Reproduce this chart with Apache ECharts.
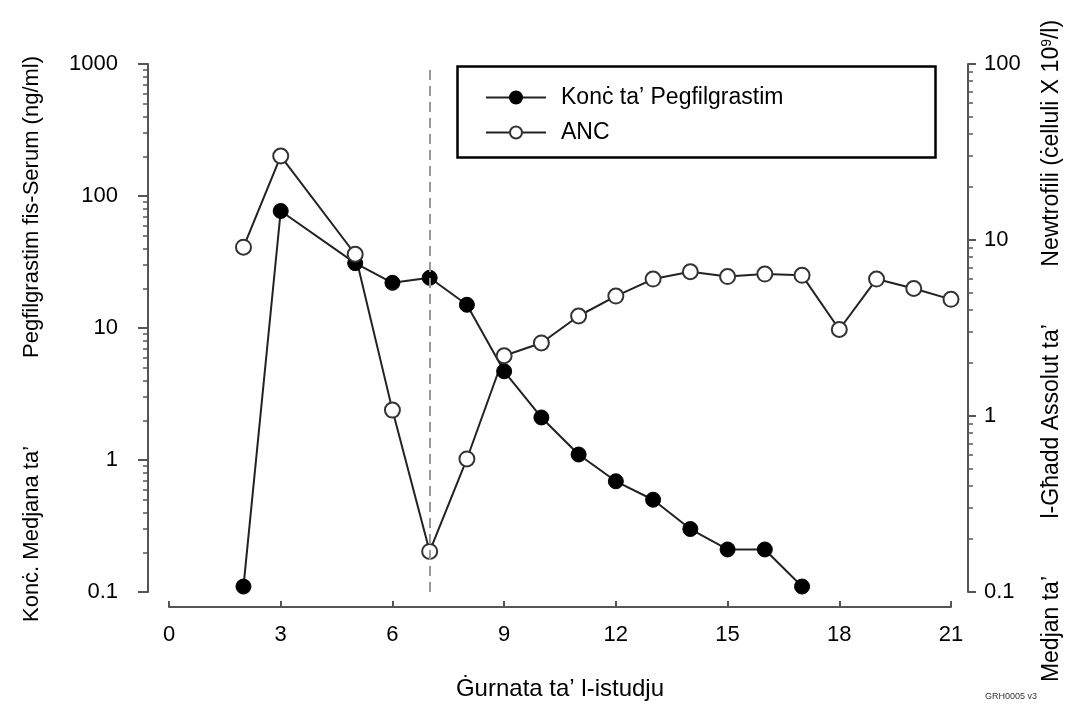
<!DOCTYPE html>
<html>
<head>
<meta charset="utf-8">
<title>Pegfilgrastim / ANC</title>
<script src="https://cdn.jsdelivr.net/npm/echarts@6/dist/echarts.min.js"></script>
<style>
  html, body { margin: 0; padding: 0; background: #fff; }
  #main { width: 1081px; height: 709px; }
</style>
</head>
<body>
<div id="main"></div>
<script>
// Data
var pegDays = [2, 3, 5, 6, 7, 8, 9, 10, 11, 12, 13, 14, 15, 16, 17];
var pegConc = [0.11, 77, 31, 22, 24, 15, 4.7, 2.1, 1.1, 0.69, 0.50, 0.30, 0.21, 0.21, 0.11];

var ancDays = [2, 3, 5, 6, 7, 8, 9, 10, 11, 12, 13, 14, 15, 16, 17, 18, 19, 20, 21];
var ancCount = [9.1, 30, 8.3, 1.08, 0.17, 0.57, 2.2, 2.6, 3.7, 4.8, 6.0, 6.6, 6.2, 6.4, 6.3, 3.1, 6.0, 5.3, 4.6];

var markDay = 7;

// minor ticks (2..9 in each decade)
var leftMinor = [0.2, 0.3, 0.4, 0.5, 0.6, 0.7, 0.8, 0.9,
                 2, 3, 4, 5, 6, 7, 8, 9,
                 20, 30, 40, 50, 60, 70, 80, 90,
                 200, 300, 400, 500, 600, 700, 800, 900];
var rightMinor = [0.2, 0.3, 0.4, 0.5, 0.6, 0.7, 0.8, 0.9,
                  2, 3, 4, 5, 6, 7, 8, 9,
                  20, 30, 40, 50, 60, 70, 80, 90];

var pegName = 'Konċ ta’ Pegfilgrastim';
var ancName = 'ANC';

function pairs(xs, ys) {
  return xs.map(function (x, i) { return [x, ys[i]]; });
}

// plain numbers, no thousands separator
function plain(v) {
  return String(+v.toPrecision(6));
}

var axisGray = '#555';
var font = 'Liberation Sans, Arial, sans-serif';
var em = '\u2003';

var dom = document.getElementById('main');
var chart = echarts.init(dom, null, {renderer: 'canvas'});

var option = {
  animation: false,
  backgroundColor: '#fff',
  textStyle: {fontFamily: font, color: '#000'},
  grid: {left: 169, right: 130, top: 64, bottom: 117, outerBoundsMode: 'none'},
  legend: {
    orient: 'vertical',
    left: 480,
    top: 80,
    itemWidth: 60,
    itemHeight: 15,
    itemGap: 10,
    data: [pegName, ancName],
    textStyle: {fontSize: 23, lineHeight: 25, color: '#000', fontFamily: font, padding: [0, 0, 0, 10]}
  },
  xAxis: {
    type: 'value',
    min: 0,
    max: 21,
    interval: 3,
    offset: 15,
    name: 'Ġurnata ta’ l-istudju',
    nameLocation: 'middle',
    nameGap: 70,
    nameTextStyle: {fontSize: 24, color: '#000'},
    axisLine: {onZero: false, lineStyle: {color: axisGray, width: 2}},
    axisTick: {inside: true, length: 6, lineStyle: {color: axisGray, width: 2}},
    axisLabel: {fontSize: 22, color: '#000', margin: 17},
    splitLine: {show: false}
  },
  yAxis: [
    {
      type: 'log',
      logBase: 10,
      min: 0.1,
      max: 1000,
      position: 'left',
      offset: 21,
      name: 'Konċ. Medjana ta’' + em + em + em + em + 'Pegfilgrastim fis-Serum (ng/ml)' + em,
      nameLocation: 'middle',
      nameGap: 105,
      nameTextStyle: {fontSize: 22, color: '#000'},
      axisLine: {show: true, onZero: false, lineStyle: {color: axisGray, width: 2}},
      axisTick: {length: 10, lineStyle: {color: axisGray, width: 2}},
      axisLabel: {fontSize: 22, color: '#000', margin: 30, formatter: plain},
      splitLine: {show: false}
    },
    {
      type: 'log',
      logBase: 10,
      min: 0.1,
      max: 100,
      position: 'right',
      offset: 17,
      name: 'Medjan ta’' + em + em + '\u2002l-Għadd Assolut ta’' + em + em + '\u2002Newtrofili (ċelluli X 10{sup|9}/l)' + em + em,
      nameLocation: 'middle',
      nameGap: 72,
      nameTextStyle: {
        fontSize: 23,
        color: '#000',
        rich: {sup: {fontSize: 14, verticalAlign: 'top', color: '#000', fontFamily: font}}
      },
      axisLine: {show: true, onZero: false, lineStyle: {color: axisGray, width: 2}},
      axisTick: {length: 8, lineStyle: {color: axisGray, width: 2}},
      axisLabel: {fontSize: 22, color: '#000', margin: 16, formatter: plain},
      splitLine: {show: false}
    },
    {
      // left minor ticks
      type: 'log',
      logBase: 10,
      min: 0.1,
      max: 1000,
      position: 'left',
      offset: 21,
      axisLine: {show: false, onZero: false},
      axisTick: {show: true, length: 5, customValues: leftMinor, lineStyle: {color: axisGray, width: 1.5}},
      axisLabel: {show: false},
      splitLine: {show: false}
    },
    {
      // right minor ticks
      type: 'log',
      logBase: 10,
      min: 0.1,
      max: 100,
      position: 'right',
      offset: 17,
      axisLine: {show: false, onZero: false},
      axisTick: {show: true, length: 5, customValues: rightMinor, lineStyle: {color: axisGray, width: 1.5}},
      axisLabel: {show: false},
      splitLine: {show: false}
    }
  ],
  series: [
    {
      name: pegName,
      type: 'line',
      yAxisIndex: 0,
      data: pairs(pegDays, pegConc),
      symbol: 'circle',
      symbolSize: 15,
      lineStyle: {color: '#222', width: 2},
      itemStyle: {color: '#000', borderColor: '#000', borderWidth: 1},
      markLine: {
        silent: true,
        symbol: ['none', 'none'],
        label: {show: false},
        lineStyle: {color: '#999', type: [10, 6], width: 2},
        data: [{xAxis: markDay}]
      }
    },
    {
      name: ancName,
      type: 'line',
      yAxisIndex: 1,
      data: pairs(ancDays, ancCount),
      symbol: 'circle',
      symbolSize: 15,
      lineStyle: {color: '#222', width: 2},
      itemStyle: {color: '#fff', borderColor: '#333', borderWidth: 2}
    }
  ],
  graphic: [
    {
      // legend frame
      type: 'rect',
      left: 455,
      top: 64,
      shape: {width: 478, height: 91},
      style: {fill: 'none', stroke: '#000', lineWidth: 2.5},
      silent: true
    },
    {
      type: 'text',
      left: 985,
      top: 692,
      style: {text: 'GRH0005 v3', fontSize: 9, fill: '#333', fontFamily: font},
      silent: true
    }
  ]
};

chart.setOption(option);
</script>
</body>
</html>
